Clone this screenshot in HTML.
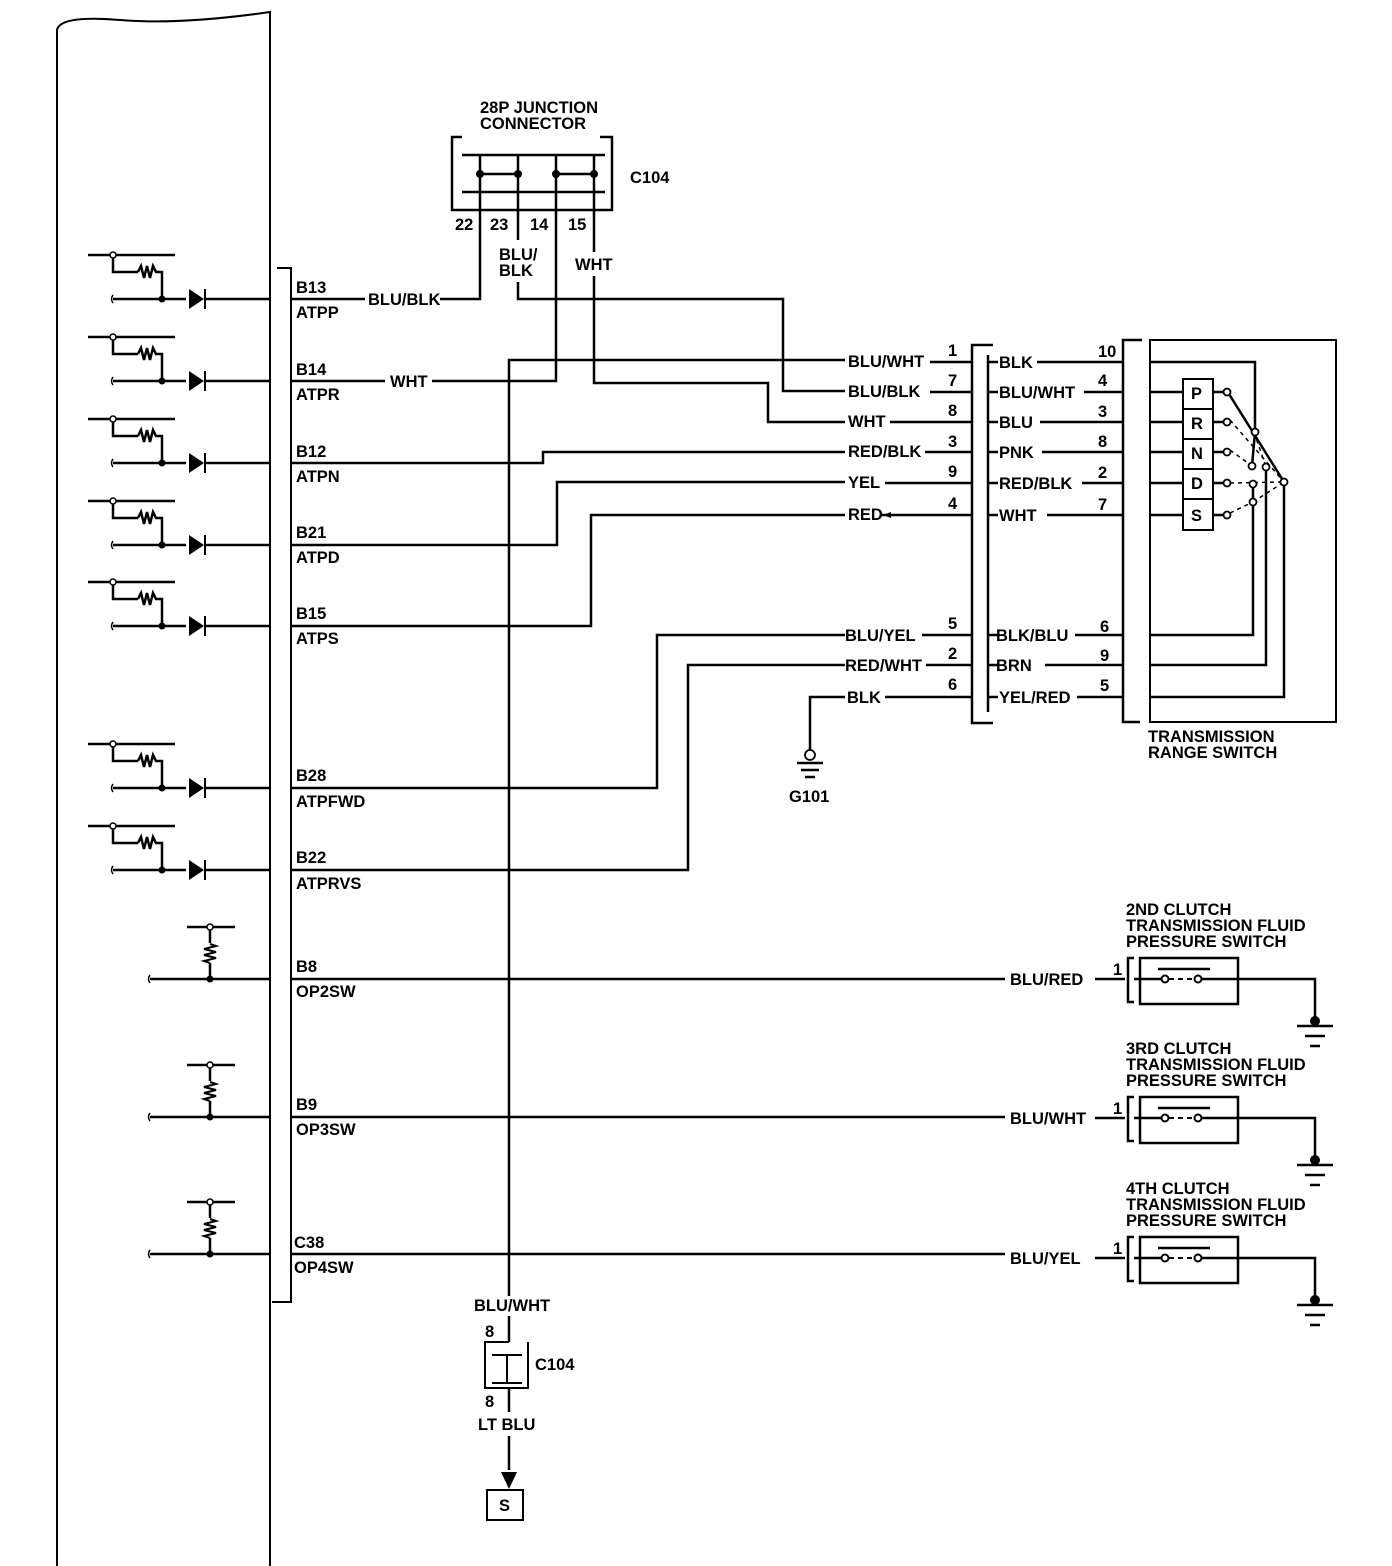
<!DOCTYPE html>
<html><head><meta charset="utf-8"><style>
html,body{margin:0;padding:0;background:#fff}
svg{display:block}
text{font-family:"Liberation Sans",sans-serif;font-weight:700;font-size:16.5px;fill:#000}
</style></head><body>
<svg width="1392" height="1566" viewBox="0 0 1392 1566" xmlns="http://www.w3.org/2000/svg">
<g stroke="#000" stroke-width="2.5" fill="none">
<path d="M57 1566 V30 Q60 15 120 20 T270 12 V1566" stroke-width="2"/>
<path d="M277 268 H291 V1302 H272" stroke-width="2"/>
</g>
<defs>
<g id="drow">
<path d="M88 -44 H175 M113 -44 V-27 H138 M138 -27 l3 -6 l3 12 l3 -12 l3 12 l3 -12 l3 6 H162 V0 M113 0 H186 M206 0 H270" stroke="#000" stroke-width="2.5" fill="none"/>
<path d="M113 -4 q-3 4 0 8" stroke="#000" stroke-width="1.5" fill="none"/>
<circle cx="113" cy="-44" r="3" fill="#fff" stroke="#000" stroke-width="1.5"/>
<circle cx="162" cy="0" r="3.5" fill="#000"/>
<path d="M189 -10 L204 0 L189 10 Z" fill="#000"/>
<path d="M205 -10 V10" stroke="#000" stroke-width="2"/>
</g>
<g id="rrow">
<path d="M150 0 H270 M210 0 V-16 M210 -36 V-52 M187 -52 H235" stroke="#000" stroke-width="2.5" fill="none"/>
<path d="M210 -16 l-6 -2 l12 -3 l-12 -3 l12 -3 l-12 -3 l12 -3 l-6 -2" stroke="#000" stroke-width="2" fill="none"/>
<path d="M150 -4 q-3 4 0 8" stroke="#000" stroke-width="1.5" fill="none"/>
<circle cx="210" cy="-52" r="3" fill="#fff" stroke="#000" stroke-width="1.5"/>
<circle cx="210" cy="0" r="3.5" fill="#000"/>
</g>
<g id="psw">
<path d="M1095 0 H1125 M1134 -21 H1128 V23 H1134 M1140 -21 H1238 V25 H1140 Z M1134 0 H1162 M1201 0 H1315 V40 M1158 -10 H1210 M1297 47 H1333 M1305 57 H1325 M1310 67 H1320" stroke="#000" stroke-width="2.5" fill="none"/>
<path d="M1169 0 H1195" stroke="#000" stroke-width="2" stroke-dasharray="5 4" fill="none"/>
<circle cx="1165" cy="0" r="3.5" fill="#fff" stroke="#000" stroke-width="2"/>
<circle cx="1198" cy="0" r="3.5" fill="#fff" stroke="#000" stroke-width="2"/>
<circle cx="1315" cy="42" r="5" fill="#000"/>
</g>
</defs>
<use href="#drow" y="299"/><use href="#drow" y="381"/><use href="#drow" y="463"/><use href="#drow" y="545"/><use href="#drow" y="626"/><use href="#drow" y="788"/><use href="#drow" y="870"/>
<use href="#rrow" y="979"/><use href="#rrow" y="1117"/><use href="#rrow" y="1254"/>
<use href="#psw" y="979"/><use href="#psw" y="1118"/><use href="#psw" y="1258"/>

<g stroke="#000" stroke-width="2.5" fill="none">
<path d="M462 137 H452 V210 H612 V137 H600"/>
<path d="M462 155 H605 M462 192 H605 M480 155 V192 M518 155 V192 M556 155 V192 M594 155 V192 M480 174 H518 M556 174 H594"/>
<path d="M291 299 H365 M440 299 H480 V192"/>
<path d="M518 192 V240 M518 282 V299 H783 V391 H845"/>
<path d="M291 381 H385 M432 381 H556 V192"/>
<path d="M594 192 V252 M594 276 V383 H768 V422 H845"/>
<path d="M509 1296 V360 H845 M509 1316 V1342 M509 1388 V1412 M509 1436 V1470"/>
<path d="M291 463 H543 V452 H845"/>
<path d="M291 545 H557 V482 H845"/>
<path d="M291 626 H591 V515 H845"/>
<path d="M291 788 H657 V635 H845"/>
<path d="M291 870 H688 V665 H845"/>
<path d="M291 979 H1005 M291 1117 H1005 M291 1254 H1005"/>
<path d="M845 697 H810 V750 M797 763 H823 M801 770 H819 M805 777 H815"/>
<path d="M930 362 H972 M930 392 H972 M890 422 H972 M925 452 H972 M885 483 H972 M880 515 H972 M922 635 H972 M926 665 H972 M885 697 H972"/>
<path d="M993 345 H972 V723 H993 M988 355 V712"/>
<path d="M988 362 H998 M988 392 H998 M988 422 H998 M988 452 H998 M988 483 H998 M988 515 H998 M988 635 H998 M988 665 H998 M988 697 H998"/>
<path d="M1037 362 H1123 M1084 392 H1123 M1040 422 H1123 M1042 452 H1123 M1082 483 H1123 M1047 515 H1123 M1075 635 H1123 M1045 665 H1123 M1077 697 H1123"/>
<path d="M1142 340 H1123 V722 H1140"/>
<path d="M1150 340 H1336 V722 H1150 Z" stroke-width="2"/>
<path d="M1150 362 H1255 V430 M1150 392 H1183 M1150 422 H1183 M1150 452 H1183 M1150 483 H1183 M1150 515 H1183"/>
<path d="M1183 379 H1213 V530 H1183 Z M1183 409 H1213 M1183 439 H1213 M1183 469 H1213 M1183 499 H1213" stroke-width="2"/>
<path d="M1213 392 H1224 M1213 422 H1224 M1213 452 H1224 M1213 483 H1224 M1213 515 H1224"/>
<path d="M1229 394 L1284 482 M1255 432 L1252 466 M1253 486 V500"/>
<path d="M1253 505 V635 H1150 M1266 470 V665 H1150 M1284 485 V697 H1150"/>
<path d="M1230 420 L1284 482 M1230 450 L1252 466 M1230 483 L1284 482 M1230 513 L1253 502 M1253 502 L1284 482 M1254 432 L1266 467" stroke-width="1.5" stroke-dasharray="4 4"/>
<path d="M509 1342 H485 V1388 H509 M528 1342 V1388 H509 M492 1355 H522 M507 1355 V1383 M492 1383 H522" stroke-width="2"/>
<path d="M487 1490 H523 V1520 H487 Z" stroke-width="2"/>
</g>
<path d="M501 1472 L517 1472 L509 1489 Z" fill="#000"/>
<path d="M883 515 l8 -3 v6 z" fill="#000"/>
<g fill="#fff" stroke="#000" stroke-width="1.8">
<circle cx="1227" cy="392" r="3.5"/><circle cx="1227" cy="422" r="3.5"/><circle cx="1227" cy="452" r="3.5"/><circle cx="1227" cy="483" r="3.5"/><circle cx="1227" cy="515" r="3.5"/>
<circle cx="1255" cy="432" r="3.5"/><circle cx="1252" cy="466" r="3.5"/><circle cx="1266" cy="467" r="3.5"/><circle cx="1284" cy="482" r="3.5"/><circle cx="1253" cy="484" r="3.5"/><circle cx="1253" cy="502" r="3.5"/>
<circle cx="810" cy="755" r="5"/>
</g>
<g fill="#000">
<circle cx="480" cy="174" r="4"/><circle cx="518" cy="174" r="4"/><circle cx="556" cy="174" r="4"/><circle cx="594" cy="174" r="4"/>
</g>
<text x="480" y="113">28P JUNCTION</text>
<text x="480" y="129">CONNECTOR</text>
<text x="630" y="183">C104</text>
<text x="455" y="230">22</text><text x="490" y="230">23</text><text x="530" y="230">14</text><text x="568" y="230">15</text>
<text x="499" y="260">BLU/</text><text x="499" y="276">BLK</text><text x="575" y="270">WHT</text>
<text x="296" y="293">B13</text><text x="296" y="318">ATPP</text><text x="368" y="305">BLU/BLK</text>
<text x="296" y="375">B14</text><text x="296" y="400">ATPR</text><text x="390" y="387">WHT</text>
<text x="296" y="457">B12</text><text x="296" y="482">ATPN</text>
<text x="296" y="538">B21</text><text x="296" y="563">ATPD</text>
<text x="296" y="619">B15</text><text x="296" y="644">ATPS</text>
<text x="296" y="781">B28</text><text x="296" y="807">ATPFWD</text>
<text x="296" y="863">B22</text><text x="296" y="889">ATPRVS</text>
<text x="296" y="972">B8</text><text x="296" y="997">OP2SW</text>
<text x="296" y="1110">B9</text><text x="296" y="1135">OP3SW</text>
<text x="294" y="1248">C38</text><text x="294" y="1273">OP4SW</text>
<text x="848" y="367">BLU/WHT</text><text x="848" y="397">BLU/BLK</text><text x="848" y="427">WHT</text>
<text x="848" y="457">RED/BLK</text><text x="848" y="488">YEL</text><text x="848" y="520">RED</text>
<text x="845" y="641">BLU/YEL</text><text x="845" y="671">RED/WHT</text><text x="847" y="703">BLK</text>
<text x="948" y="356">1</text><text x="948" y="386">7</text><text x="948" y="416">8</text><text x="948" y="447">3</text><text x="948" y="477">9</text><text x="948" y="509">4</text>
<text x="948" y="629">5</text><text x="948" y="659">2</text><text x="948" y="690">6</text>
<text x="999" y="368">BLK</text><text x="999" y="398">BLU/WHT</text><text x="999" y="428">BLU</text><text x="999" y="458">PNK</text><text x="999" y="489">RED/BLK</text><text x="999" y="521">WHT</text>
<text x="996" y="641">BLK/BLU</text><text x="996" y="671">BRN</text><text x="999" y="703">YEL/RED</text>
<text x="1098" y="357">10</text><text x="1098" y="386">4</text><text x="1098" y="417">3</text><text x="1098" y="447">8</text><text x="1098" y="478">2</text><text x="1098" y="510">7</text>
<text x="1100" y="632">6</text><text x="1100" y="661">9</text><text x="1100" y="691">5</text>
<text x="1191" y="399">P</text><text x="1191" y="429">R</text><text x="1191" y="459">N</text><text x="1191" y="489">D</text><text x="1191" y="521">S</text>
<text x="1148" y="742">TRANSMISSION</text><text x="1148" y="758">RANGE SWITCH</text>
<text x="789" y="802">G101</text>
<text x="1010" y="985">BLU/RED</text><text x="1010" y="1124">BLU/WHT</text><text x="1010" y="1264">BLU/YEL</text>
<text x="1113" y="975">1</text><text x="1113" y="1114">1</text><text x="1113" y="1254">1</text>
<text x="1126" y="915">2ND CLUTCH</text><text x="1126" y="931">TRANSMISSION FLUID</text><text x="1126" y="947">PRESSURE SWITCH</text>
<text x="1126" y="1054">3RD CLUTCH</text><text x="1126" y="1070">TRANSMISSION FLUID</text><text x="1126" y="1086">PRESSURE SWITCH</text>
<text x="1126" y="1194">4TH CLUTCH</text><text x="1126" y="1210">TRANSMISSION FLUID</text><text x="1126" y="1226">PRESSURE SWITCH</text>
<text x="474" y="1311">BLU/WHT</text><text x="485" y="1337">8</text><text x="535" y="1370">C104</text><text x="485" y="1407">8</text>
<text x="478" y="1430">LT BLU</text><text x="499" y="1511">S</text>
</svg>
</body></html>
